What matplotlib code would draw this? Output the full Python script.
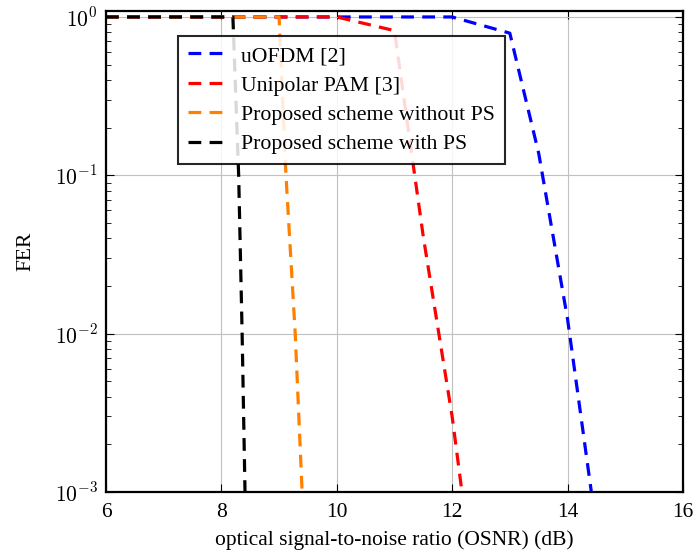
import math
import matplotlib
matplotlib.use("Agg")
import matplotlib.pyplot as plt
from matplotlib.ticker import FuncFormatter, LogLocator, NullFormatter

plt.rcParams['font.family'] = ['Liberation Serif', 'DejaVu Serif']
plt.rcParams['mathtext.fontset'] = 'cm'

# data
osnr_uofdm = [6, 7, 8, 9, 10, 11, 12, 13, 13.5, 14, 14.5]
fer_uofdm = [1, 1, 1, 1, 1, 1, 1, 0.79, 0.138, 0.0124, 5.9e-4]

osnr_pam = [6, 7, 8, 9, 10, 11, 11.5, 12, 12.5]
fer_pam = [1, 1, 1, 1, 1, 0.82, 0.041, 0.003, 1.2e-4]

osnr_nops = [6, 7, 8, 9, 9.12, 9.28, 9.4, 9.5]
fer_nops = [1, 1, 1, 1, 0.1, 0.01, 0.001, 1.5e-4]

osnr_ps = [6, 7, 8, 8.2, 8.3, 8.36, 8.41, 8.45]
fer_ps = [1, 1, 1, 1, 0.1, 0.01, 0.001, 2e-4]

labels = ['uOFDM [2]', 'Unipolar PAM [3]', 'Proposed scheme without PS', 'Proposed scheme with PS']
colors = ['#0000ff', '#ff0000', '#ff8000', '#000000']

fig = plt.figure(figsize=(6.94, 5.52), dpi=100)
ax = fig.add_axes([0.1527, 0.1087, 0.8313, 0.8713])

series = [(osnr_uofdm, fer_uofdm), (osnr_pam, fer_pam), (osnr_nops, fer_nops), (osnr_ps, fer_ps)]
for (x, y), lab, c in zip(series, labels, colors):
    ax.plot(x, y, color=c, lw=2.3, dashes=(4.0, 2.6), label=lab)

ax.set_yscale('log')
ax.set_xlim(6, 16)
ax.set_ylim(1e-3, 1.09)
ax.set_xticks([6, 8, 10, 12, 14, 16])
ax.yaxis.set_major_locator(LogLocator(base=10, numticks=10))
ax.yaxis.set_minor_locator(LogLocator(base=10, subs=range(2, 10), numticks=20))
ax.yaxis.set_minor_formatter(NullFormatter())
ax.yaxis.set_major_formatter(FuncFormatter(lambda v, p: r'$10^{%d}$' % round(math.log10(v))))

ax.grid(True, which='major', color='#c0c0c0', lw=0.8)
ax.tick_params(which='both', direction='in', top=True, right=True, labelsize=15.5)
ax.tick_params(which='major', length=6, width=0.8)
ax.tick_params(which='minor', length=3.5, width=0.6)
ax.tick_params(axis='x', pad=8)
ax.tick_params(axis='y', pad=6)
for s in ax.spines.values():
    s.set_linewidth(1.6)

ax.set_xlabel('optical signal-to-noise ratio (OSNR) (dB)', fontsize=15.5, labelpad=6)
ax.set_ylabel('FER', fontsize=15.5, labelpad=14)

leg = ax.legend(loc='upper left', bbox_to_anchor=(0.125, 0.948), fontsize=15.7,
                fancybox=False, edgecolor='black', framealpha=0.85, borderaxespad=0,
                handlelength=1.9, handletextpad=0.55, labelspacing=0.42, borderpad=0.45)
leg.get_frame().set_linewidth(1.5)

fig.savefig('out.png', dpi=100)
